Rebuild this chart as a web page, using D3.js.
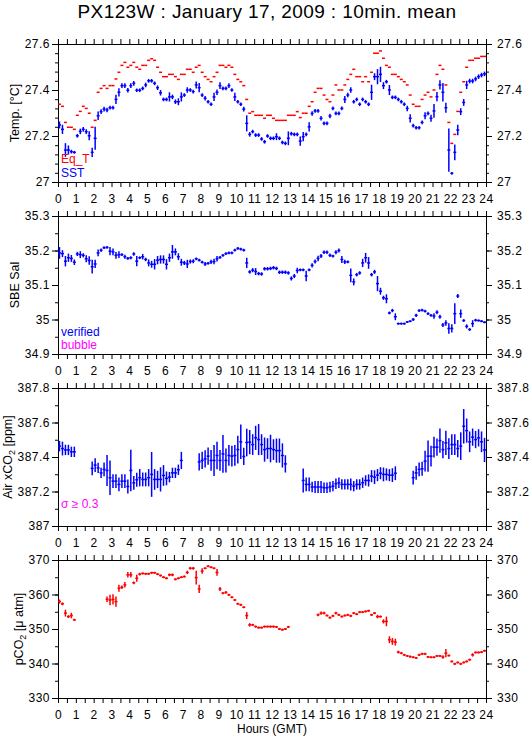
<!DOCTYPE html>
<html>
<head>
<meta charset="utf-8">
<script src="https://cdn.jsdelivr.net/npm/d3@7"></script>
<style>
  body { margin: 0; background: #fff; }
  svg { display: block; font-family: "Liberation Sans", Arial, Helvetica, sans-serif; }
</style>
</head>
<body>
<svg id="chart" width="529" height="739"></svg>
<script>
// 10 minute means, index i covers i*10min .. (i+1)*10min (GMT)
var stepHours = 1 / 6;

// Panel 1 : temperatures
var eqT = [
	27.338, 27.329, 27.259, 27.238, 27.238, 27.229, 27.29, 27.307, 27.329, 27.32, 27.299, 27.238,
	27.268, 27.39, 27.407, 27.419, 27.407, 27.419, 27.419, 27.448, 27.477, 27.507, 27.52, 27.499,
	27.507, 27.52, 27.499, 27.49, 27.507, 27.507, 27.529, 27.536, 27.529, 27.499, 27.477, 27.458,
	27.458, 27.468, 27.468, 27.458, 27.446, 27.468, 27.468, 27.49, 27.49, 27.477, 27.499, 27.507,
	27.477, 27.458, 27.446, 27.436, 27.458, 27.477, 27.507, 27.507, 27.499, 27.507, 27.499, 27.468,
	27.446, 27.436, 27.419, 27.359, 27.299, 27.306, 27.29, 27.29, 27.29, 27.277, 27.29, 27.29,
	27.277, 27.268, 27.268, 27.268, 27.268, 27.29, 27.29, 27.29, 27.306, 27.28, 27.299, 27.299,
	27.329, 27.349, 27.39, 27.407, 27.407, 27.378, 27.359, 27.349, 27.378, 27.422, 27.4, 27.4,
	27.422, 27.446, 27.468, 27.49, 27.458, 27.458, 27.436, 27.458, 27.436, 27.477, 27.56, 27.56,
	27.57, 27.538, 27.507, 27.499, 27.468, 27.468, 27.458, 27.446, 27.436, 27.422, 27.378, 27.338,
	27.329, 27.329, 27.359, 27.378, 27.39, 27.37, 27.4, 27.468, 27.507, 27.49, 27.422, 27.259,
	27.168, 27.207, 27.307, 27.39, 27.436, 27.499, 27.529, 27.529, 27.538, 27.538, 27.546, 27.546
];
var sst = [
	27.248, 27.229, 27.139, 27.139, 27.132, 27.129, 27.201, 27.22, 27.229, 27.219, 27.201, 27.129,
	27.19, 27.288, 27.306, 27.317, 27.313, 27.323, 27.323, 27.359, 27.39, 27.419, 27.419, 27.399,
	27.419, 27.429, 27.399, 27.399, 27.407, 27.422, 27.44, 27.44, 27.429, 27.41, 27.388, 27.359,
	27.359, 27.37, 27.37, 27.349, 27.349, 27.37, 27.378, 27.4, 27.4, 27.393, 27.422, 27.41,
	27.378, 27.364, 27.349, 27.338, 27.37, 27.39, 27.419, 27.407, 27.407, 27.419, 27.4, 27.37,
	27.349, 27.338, 27.317, 27.255, 27.207, 27.219, 27.204, 27.204, 27.187, 27.175, 27.2, 27.19,
	27.19, 27.197, 27.19, 27.172, 27.168, 27.19, 27.21, 27.207, 27.207, 27.178, 27.197, 27.207,
	27.24, 27.298, 27.309, 27.309, 27.277, 27.255, 27.255, 27.287, 27.32, 27.298, 27.298, 27.32,
	27.359, 27.378, 27.4, 27.349, 27.359, 27.338, 27.359, 27.349, 27.338, 27.39, 27.458, 27.458,
	27.468, 27.419, 27.436, 27.4, 27.368, 27.368, 27.359, 27.349, 27.338, 27.32, 27.277, 27.245,
	27.236, 27.236, 27.259, 27.288, 27.298, 27.277, 27.309, 27.371, 27.422, 27.39, 27.323, 27.139,
	27.038, 27.129, 27.226, 27.306, 27.346, 27.422, 27.439, 27.439, 27.448, 27.458, 27.465, 27.47
];
var sstSd = [
	.015, .02, .03, .02, .008, .006, .008, .012, .01, .01, .02, .02,
	.05, .018, .01, .01, .01, .008, .008, .02, .018, .01, .01, .01,
	.01, .01, .008, .008, .008, .01, .008, .008, .008, .01, .012, .008,
	.008, .02, .01, .01, .015, .02, .008, .012, .008, .008, .015, .02,
	.008, .01, .008, .008, .018, .012, .015, .008, .008, .01, .008, .018,
	.008, .008, .01, .035, .01, .008, .008, .008, .008, .008, .008, .008,
	.008, .015, .008, .008, .008, .03, .008, .008, .008, .02, .02, .008,
	.02, .01, .008, .008, .01, .008, .008, .01, .008, .008, .008, .008,
	.015, .01, .012, .008, .008, .008, .008, .008, .008, .033, .015, .033,
	.033, .015, .008, .022, .008, .008, .008, .008, .008, .012, .018, .008,
	.008, .008, .008, .015, .008, .015, .03, .02, .02, .04, .022, .094,
	.006, .034, .023, .015, .015, .018, .01, .01, .01, .01, .01, .01
];

// Panel 2 : SBE salinity
var salinity = [
	35.193, 35.191, 35.169, 35.179, 35.177, 35.166, 35.19, 35.188, 35.186, 35.176, 35.171, 35.153,
	35.161, 35.193, 35.201, 35.208, 35.209, 35.198, 35.196, 35.186, 35.188, 35.188, 35.182, 35.177,
	35.179, 35.19, 35.169, 35.179, 35.182, 35.174, 35.164, 35.16, 35.16, 35.172, 35.174, 35.174,
	35.16, 35.179, 35.196, 35.196, 35.182, 35.166, 35.164, 35.161, 35.168, 35.169, 35.176, 35.172,
	35.166, 35.161, 35.163, 35.167, 35.168, 35.176, 35.18, 35.186, 35.191, 35.193, 35.193, 35.201,
	35.206, 35.204, 35.201, 35.164, 35.138, 35.143, 35.139, 35.133, 35.132, 35.147, 35.147, 35.148,
	35.15, 35.148, 35.137, 35.137, 35.137, 35.135, 35.119, 35.126, 35.142, 35.144, 35.144, 35.126,
	35.144, 35.157, 35.168, 35.177, 35.184, 35.195, 35.195, 35.186, 35.184, 35.195, 35.2, 35.174,
	35.167, 35.167, 35.128, 35.109, 35.13, 35.135, 35.164, 35.179, 35.164, 35.13, 35.138, 35.104,
	35.082, 35.063, 35.06, 35.019, 35.026, 35.008, 34.988, 34.988, 34.988, 34.993, 34.995, 35.0,
	35.012, 35.026, 35.027, 35.024, 35.017, 35.012, 35.01, 35.021, 35.008, 34.984, 34.99, 34.974,
	34.974, 35.017, 35.068, 35.017, 34.997, 34.98, 34.971, 34.988, 34.998, 34.997, 34.995, 34.992
];
var salinitySd = [
	.017, .01, .015, .012, .01, .008, .006, .01, .006, .01, .012, .02,
	.012, .01, .005, .004, .004, .012, .01, .01, .01, .004, .006, .004,
	.004, .005, .015, .004, .008, .005, .01, .01, .015, .012, .012, .012,
	.015, .012, .02, .01, .01, .01, .006, .012, .006, .006, .004, .004,
	.004, .006, .004, .006, .008, .008, .004, .004, .004, .004, .004, .004,
	.004, .004, .004, .015, .005, .006, .01, .005, .005, .005, .005, .005,
	.005, .005, .005, .005, .005, .005, .006, .006, .008, .004, .004, .015,
	.004, .006, .006, .008, .006, .005, .005, .005, .004, .006, .006, .01,
	.006, .004, .02, .01, .005, .005, .012, .014, .017, .005, .006, .022,
	.01, .006, .013, .004, .005, .01, .003, .003, .003, .003, .003, .004,
	.005, .004, .004, .004, .004, .004, .008, .006, .006, .006, .008, .015,
	.012, .03, .006, .012, .004, .006, .004, .01, .004, .003, .003, .003
];

// Panel 3 : atmospheric xCO2 (ppm), null = no air sample
var airCo2 = [
	387.463, 387.449, 387.441, 387.441, 387.43, 387.43, null, null, null, null, null, 387.334,
	387.353, 387.337, 387.308, 387.328, 387.322, 387.28, 387.26, 387.26, 387.241, 387.26, 387.26, 387.229,
	387.322, 387.25, 387.268, 387.28, 387.27, 387.27, 387.28, 387.299, 387.27, 387.27, 387.27, 387.293,
	387.276, 387.283, 387.308, 387.308, 387.326, 387.38, null, null, null, null, null, 387.372,
	387.38, 387.389, 387.405, 387.38, 387.38, 387.409, 387.38, 387.418, 387.38, 387.409, 387.405, 387.409,
	387.443, 387.488, 387.403, 387.484, 387.486, 387.472, 387.511, 387.501, 387.472, 387.443, 387.449, 387.449,
	387.443, 387.437, 387.437, 387.409, 387.36, null, null, null, null, null, 387.264, 387.241,
	387.241, 387.226, 387.226, 387.226, 387.226, 387.222, 387.222, 387.226, 387.231, 387.245, 387.251, 387.241,
	387.241, 387.241, 387.241, 387.231, 387.241, 387.241, 387.251, 387.264, 387.264, 387.289, 387.283, 387.295,
	387.306, 387.299, 387.299, 387.295, 387.295, 387.306, null, null, null, null, null, 387.28,
	387.308, 387.328, 387.332, 387.376, 387.405, 387.405, 387.457, 387.457, 387.495, 387.443, 387.482, 387.449,
	387.472, 387.472, 387.449, 387.463, 387.578, 387.553, 387.488, 387.515, 387.501, 387.511, 387.488, 387.441
];
var airCo2Sd = [
	.03, .04, .03, .03, .03, .03, 0, 0, 0, 0, 0, .04,
	.04, .03, .03, .04, .09, .1, .04, .04, .04, .04, .04, .04,
	.12, .04, .04, .05, .04, .04, .05, .13, .06, .05, .07, .06,
	.04, .03, .03, .03, .03, .05, 0, 0, 0, 0, 0, .05,
	.05, .05, .05, .06, .09, .08, .06, .11, .07, .06, .06, .06,
	.08, .1, .05, .08, .07, .06, .07, .09, .06, .07, .06, .08,
	.06, .07, .07, .07, .05, 0, 0, 0, 0, 0, .07, .04,
	.04, .03, .035, .035, .035, .03, .03, .03, .03, .03, .03, .03,
	.03, .03, .035, .03, .03, .03, .03, .03, .035, .035, .04, .035,
	.035, .04, .035, .035, .04, .04, 0, 0, 0, 0, 0, .04,
	.04, .04, .04, .06, .09, .06, .06, .05, .07, .05, .07, .06,
	.06, .06, .05, .08, .1, .07, .06, .05, .05, .05, .06, .07
];

// Panel 4 : seawater pCO2 (uatm)
var pco2 = [
	357.95, 357.3, 354.6, 353.6, 353.9, 352.65, null, null, null, null, null, null,
	null, null, null, null, 358.6, 358.4, 358.6, 357.95, 361.8, 362.1, 362.8, 365.7,
	365.7, 363.4, 364.7, 365.9, 366.1, 366.0, 366.0, 366.3, 366.3, 365.9, 365.5, 365.0,
	364.7, 365.7, 365.7, 364.4, 364.7, 365.0, 365.2, 366.4, 367.6, 367.6, 364.9, 361.6,
	366.8, 367.6, 368.2, 367.9, 367.6, 366.4, 361.6, 360.4, 360.6, 359.9, 359.2, 358.4,
	357.3, 357.0, 356.3, 353.9, 351.2, 351.2, 350.7, 350.4, 350.4, 350.7, 350.7, 350.7,
	350.7, 350.6, 350.0, 349.8, 350.0, 350.6, null, null, null, null, null, null,
	null, null, null, 354.1, 354.6, 354.6, 353.9, 353.3, 353.8, 354.6, 354.1, 353.6,
	353.9, 354.1, 353.8, 354.6, 354.3, 354.9, 354.9, 355.1, 355.3, 354.1, 354.6, 353.6,
	353.6, 352.2, 352.2, 346.9, 346.4, 346.2, 343.3, 343.0, 342.5, 342.2, 342.0, 341.8,
	341.6, 342.5, 342.8, 342.8, 341.9, 341.8, 341.8, 342.2, 342.2, 341.9, 343.0, 342.3,
	340.6, 339.9, 340.3, 339.9, 340.3, 340.6, 341.1, 342.5, 343.2, 343.2, 343.3, 343.7
];
var pco2Sd = [
	.6, .4, 1.0, .4, .8, .3, 0, 0, 0, 0, 0, 0,
	0, 0, 0, 0, .8, 1.5, 1.5, 1.5, 1.0, .5, .8, .8,
	.8, .4, 1.0, .4, .3, .3, .3, .3, .3, .3, .3, .3,
	.3, .4, .4, .3, .3, .3, .3, .5, .4, .4, 2.0, 1.2,
	.8, .3, .3, .3, .3, 1.0, .6, .3, .4, .3, .3, .3,
	.3, .3, .3, 1.0, .5, .3, .3, .3, .3, .3, .3, .3,
	.3, .3, .3, .3, .3, .3, 0, 0, 0, 0, 0, 0,
	0, 0, 0, .4, .5, .4, .3, .3, .3, .4, .3, .3,
	.3, .3, .3, .3, .3, .3, .3, .3, .3, .3, .3, .5,
	.3, .6, 1.4, 1.0, 1.0, 1.0, .4, .3, .3, .3, .3, .3,
	.3, .3, .3, .3, .3, .3, .3, .3, .3, .5, 1.2, .3,
	.3, .3, .3, .3, .3, .3, .3, .5, .3, .3, .3, .3
];

// axis tick values
var hourLabels = d3.range(0, 25);           // 0 .. 24
var hourTicks = d3.range(0, 49).map(function(k) { return k / 2; });
var tempTicks = [27, 27.2, 27.4, 27.6];
var salTicks = [34.9, 35, 35.1, 35.2, 35.3];
var airTicks = [387, 387.2, 387.4, 387.6, 387.8];
var pco2Ticks = [330, 340, 350, 360, 370];

var BLUE = '#0000ff', RED = '#ff0000', MAGENTA = '#ff00ff';

var panels = [
	{
		top: 44, domain: [27, 27.6], ticks: tempTicks, minorStep: 0.04,
		title: ['Temp. [°C]'],
		series: [
			{values: eqT, sd: null, color: RED},
			{values: sst, sd: sstSd, color: BLUE}
		],
		notes: [
			{text: 'Eq_T', color: RED, y: 163},
			{text: 'SST', color: BLUE, y: 177}
		]
	},
	{
		top: 216, domain: [34.9, 35.3], ticks: salTicks, minorStep: 0.05,
		title: ['SBE Sal'],
		series: [{values: salinity, sd: salinitySd, color: BLUE}],
		notes: [
			{text: 'verified', color: BLUE, y: 336},
			{text: 'bubble', color: MAGENTA, y: 349}
		]
	},
	{
		top: 388, domain: [387, 387.8], ticks: airTicks, minorStep: 0.1,
		title: ['Air xCO', '2', ' [ppm]'],
		series: [{values: airCo2, sd: airCo2Sd, color: BLUE}],
		notes: [
			{text: 'σ ≥ 0.3', color: MAGENTA, y: 508}
		]
	},
	{
		top: 560, domain: [330, 370], ticks: pco2Ticks, minorStep: 5,
		title: ['pCO', '2', ' [μ atm]'],
		series: [{values: pco2, sd: pco2Sd, color: RED}],
		notes: []
	}
];

var left = 58, right = 486, panelHeight = 138;

var svg = d3.select('#chart');
svg.append('rect').attr('width', 529).attr('height', 739).attr('fill', '#fff');

svg.append('text')
	.attr('x', 267)
	.attr('y', 18)
	.attr('text-anchor', 'middle')
	.style('font-size', '19px')
	.style('letter-spacing', '0.4px')
	.text('PX123W : January 17, 2009 : 10min. mean');

var x = d3.scaleLinear().domain([0, 24]).range([left, right]);

function cleanAxis(g) {
	g.select('.domain').remove();
	g.selectAll('text')
		.attr('fill', '#000')
		.style('font-size', '12px')
		.style('letter-spacing', '0.5px')
		.style('font-family', '"Liberation Sans", Arial, sans-serif');
	g.selectAll('line').attr('stroke', '#000');
}

function fmt(v) {
	return String(+v.toFixed(2));
}

panels.forEach(function(p) {
	var bottom = p.top + panelHeight;
	var y = d3.scaleLinear().domain(p.domain).range([bottom, p.top]);
	var g = svg.append('g');

	var nMinor = Math.round((p.domain[1] - p.domain[0]) / p.minorStep);
	var minorTicks = d3.range(nMinor + 1).map(function(k) {
		return +(p.domain[0] + k * p.minorStep).toFixed(3);
	});

	// x axes, top and bottom
	g.append('g')
		.attr('transform', 'translate(0,' + bottom + ')')
		.call(d3.axisBottom(x).tickValues(hourTicks).tickSize(5).tickPadding(7)
			.tickFormat(function(d) { return hourLabels.indexOf(d) > -1 ? d : ''; }))
		.call(cleanAxis);
	g.append('g')
		.attr('transform', 'translate(0,' + p.top + ')')
		.call(d3.axisTop(x).tickValues(hourTicks).tickSize(5).tickFormat(''))
		.call(cleanAxis);

	// y axes, minor then major, left and right
	g.append('g')
		.attr('transform', 'translate(' + left + ',0)')
		.call(d3.axisLeft(y).tickValues(minorTicks).tickSize(3).tickFormat(''))
		.call(cleanAxis);
	var leftAxis = g.append('g')
		.attr('transform', 'translate(' + left + ',0)')
		.call(d3.axisLeft(y).tickValues(p.ticks).tickSize(6).tickPadding(2).tickFormat(fmt))
		.call(cleanAxis);
	g.append('g')
		.attr('transform', 'translate(' + right + ',0)')
		.call(d3.axisRight(y).tickValues(minorTicks).tickSize(3).tickFormat(''))
		.call(cleanAxis);
	g.append('g')
		.attr('transform', 'translate(' + right + ',0)')
		.call(d3.axisRight(y).tickValues(p.ticks).tickSize(6).tickPadding(5).tickFormat(fmt))
		.call(cleanAxis);

	g.append('rect')
		.attr('x', left + 0.5)
		.attr('y', p.top + 0.5)
		.attr('width', right - left)
		.attr('height', panelHeight)
		.attr('fill', 'none')
		.attr('stroke', '#000')
		.attr('stroke-width', 1);

	// data: horizontal bar over the 10 min interval, vertical bar = +/- sd
	p.series.forEach(function(s) {
		var pts = [];
		s.values.forEach(function(v, i) {
			if (v !== null) pts.push({i: i, v: v, sd: s.sd ? s.sd[i] : 0});
		});
		var sg = g.append('g')
			.attr('stroke', s.color)
			.attr('stroke-width', 1.5);
		sg.selectAll('line.h')
			.data(pts)
			.enter().append('line')
			.attr('class', 'h')
			.attr('x1', function(d) { return x(d.i * stepHours); })
			.attr('x2', function(d) { return x((d.i + 1) * stepHours); })
			.attr('y1', function(d) { return y(d.v); })
			.attr('y2', function(d) { return y(d.v); });
		if (s.sd) {
			sg.selectAll('line.v')
				.data(pts)
				.enter().append('line')
				.attr('class', 'v')
				.attr('x1', function(d) { return x((d.i + 0.5) * stepHours); })
				.attr('x2', function(d) { return x((d.i + 0.5) * stepHours); })
				.attr('y1', function(d) { return y(d.v - d.sd); })
				.attr('y2', function(d) { return y(d.v + d.sd); });
		}
	});

	p.notes.forEach(function(n) {
		g.append('text')
			.attr('x', 61)
			.attr('y', n.y)
			.attr('fill', n.color)
			.style('font-size', '12px')
			.text(n.text);
	});

	// rotated axis title, placed just left of the widest tick label
	var labelsLeft = left + leftAxis.node().getBBox().x;
	var t = g.append('text')
		.attr('transform', 'translate(' + (labelsLeft - 5.5) + ',' + (p.top + panelHeight / 2) + ') rotate(-90)')
		.attr('text-anchor', 'middle')
		.style('font-size', '12.5px');
	t.append('tspan').text(p.title[0]);
	if (p.title.length > 1) {
		t.append('tspan').attr('dy', 3).style('font-size', '9px').text(p.title[1]);
		t.append('tspan').attr('dy', -3).text(p.title[2]);
	}
});

svg.append('text')
	.attr('x', (left + right) / 2)
	.attr('y', 733)
	.attr('text-anchor', 'middle')
	.style('font-size', '12px')
	.text('Hours (GMT)');
</script>
</body>
</html>
